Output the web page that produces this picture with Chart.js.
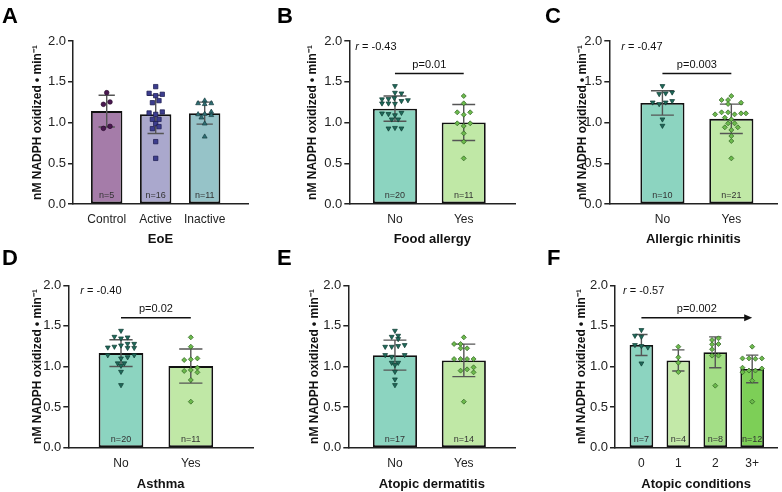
<!DOCTYPE html>
<html><head><meta charset="utf-8">
<script src="https://cdn.jsdelivr.net/npm/chart.js@4.4.1/dist/chart.umd.min.js"></script>
<style>
html,body{margin:0;padding:0;background:#fff;width:782px;height:492px;overflow:hidden;}
canvas{position:absolute;}
</style></head><body>
<canvas id="cA"></canvas><canvas id="cB"></canvas><canvas id="cC"></canvas>
<canvas id="cD"></canvas><canvas id="cE"></canvas><canvas id="cF"></canvas>
<script>
// ---------- DATA ----------
const catsEoE = ['Control', 'Active', 'Inactive'];
const catsYesNo = ['No', 'Yes'];
const catsAtopic = ['0', '1', '2', '3+'];
const yTickValues = [0, 0.5, 1.0, 1.5, 2.0];
const yAxisTitle = 'nM NADPH oxidized • min⁻¹';

// Panel A: EoE
const meanA = [1.14, 1.10, 1.115];
const sdA = [0.195, 0.235, 0.135];
const nA = [5, 16, 11];
const ptsA_control = [1.366, 1.223, 1.252, 0.928, 0.953];
const laneA_control = [0, -1, 1, -1, 1];
const ptsA_active = [1.440, 1.358, 1.329, 1.346, 1.243, 1.268, 1.117, 1.100, 1.129, 1.039, 1.039, 0.986, 0.924, 0.949, 0.765, 0.560];
const laneA_active = [0, -2, 0, 2, -1, 1, -2, 0, 2, -1, 1, 0, -1, 1, 0, 0];
const ptsA_inactive = [1.268, 1.235, 1.225, 1.235, 1.130, 1.100, 1.105, 1.090, 1.060, 0.986, 0.826];
const laneA_inactive = [0, -2, 0, 2, 2, -2, 0, 2, -1, 0, 0];

// Panel B: Food allergy
const meanB = [1.17, 1.00];
const sdB = [0.155, 0.22];
const nB = [20, 11];
const ptsB_no = [1.448, 1.366, 1.358, 1.285, 1.290, 1.265, 1.275, 1.235, 1.235, 1.230, 1.300, 1.112, 1.105, 1.090, 1.120, 1.039, 1.039, 0.928, 0.935, 0.928];
const laneB_no = [0, 0, 2, -4, -2, 2, 4, -4, -2, 0, -0.2, -4, -2, 0, 2, -1, 1, -2, 0, 2];
const ptsB_yes = [1.325, 1.235, 1.125, 1.125, 1.096, 0.990, 0.990, 0.957, 0.867, 0.765, 0.560];
const laneB_yes = [0, 0, -2, 2, 0, -2, 2, 0, 0, 0, 0];

// Panel C: Allergic rhinitis
const meanC = [1.24, 1.045];
const sdC = [0.15, 0.18];
const nC = [10, 21];
const ptsC_no = [1.448, 1.350, 1.358, 1.370, 1.247, 1.227, 1.247, 1.264, 1.039, 0.961];
const laneC_no = [0, -1, 1, 3, -3, -1, 1, 3, 0, 0];
const ptsC_yes = [1.325, 1.276, 1.276, 1.227, 1.243, 1.125, 1.125, 1.112, 1.112, 1.100, 1.100, 1.060, 1.039, 0.990, 0.990, 0.941, 0.941, 0.908, 0.834, 0.773, 0.560];
const laneC_yes = [0, -3, -1, -1, 3, -3, -1, 3, 4.5, -5, 1, -2, 0, -1, 1, -2, 2, 0, 0, 0, 0];

// Panel D: Asthma
const meanD = [1.165, 1.005];
const sdD = [0.165, 0.21];
const nD = [20, 11];
const ptsD_no = [1.441, 1.367, 1.347, 1.359, 1.235, 1.245, 1.260, 1.280, 1.280, 1.230, 1.230, 1.140, 1.100, 1.115, 1.140, 1.040, 1.040, 1.010, 0.936, 0.772];
const laneD_no = [0, -2, 0, 2, -4, -2, 0, 2, 4, 2, 4, -4, 0, 2, 4, -1, 1, 0, 0, 0];
const ptsD_yes = [1.359, 1.244, 1.080, 1.088, 1.100, 0.945, 0.957, 0.986, 0.928, 0.834, 0.567];
const laneD_yes = [0, 0, -2, 0, 2, -2, 0, 2, 2, 0, 0];

// Panel E: Atopic dermatitis
const meanE = [1.14, 1.075];
const sdE = [0.185, 0.20];
const nE = [17, 14];
const ptsE_no = [1.441, 1.367, 1.380, 1.339, 1.244, 1.244, 1.253, 1.265, 1.142, 1.121, 1.142, 1.047, 1.047, 1.019, 0.936, 0.842, 0.772];
const laneE_no = [0, -1, 1, 1, -3, -1, 1, 3, -3, -1, 3, -1, 1, 0, 0, 0, 0];
const ptsE_yes = [1.359, 1.277, 1.277, 1.224, 1.224, 1.092, 1.092, 1.092, 1.092, 0.949, 0.965, 0.990, 0.928, 0.567];
const laneE_yes = [0, -3, -1, -1, 1, -3, -1, 1, 3, -1, 1, 3, 3, 0];

// Panel F: Atopic conditions
const meanF = [1.265, 1.075, 1.175, 0.97];
const sdF = [0.13, 0.13, 0.19, 0.17];
const nF = [7, 4, 8, 12];
const ptsF_0 = [1.450, 1.380, 1.367, 1.265, 1.253, 1.236, 1.039];
const laneF_0 = [0, -2, 0, -2, 0, 2, 0];
const ptsF_1 = [1.244, 1.113, 1.047, 0.932];
const laneF_1 = [0, 0, 0, 0];
const ptsF_2 = [1.326, 1.347, 1.273, 1.277, 1.212, 1.134, 1.134, 0.764];
const laneF_2 = [-1, 1, -1, 1, -1, -1, 1, 0];
const ptsF_3 = [1.244, 1.100, 1.100, 1.095, 1.100, 0.985, 0.930, 0.950, 0.950, 0.975, 0.825, 0.567];
const laneF_3 = [0, -3, -1, 1, 3, -3, -3, -1, 1, 3, 0, 0];

// ---------- STYLES ----------
const FONT = "'Liberation Sans', Arial, Helvetica, sans-serif";
Chart.defaults.font.family = FONT;
Chart.defaults.color = '#222';
const LANE_PX = 3.3;

const STY = {
  control: {style: 'circle', r: 2.3, fill: '#4a1850', stroke: '#2a0a2e', rot: 0},
  active: {style: 'rect', r: 3.1, fill: '#3c3d8e', stroke: '#1a1a4e', rot: 0},
  inactive: {style: 'triangle', r: 2.8, fill: '#2f6f74', stroke: '#173e40', rot: 0},
  no: {style: 'triangle', r: 2.8, fill: '#1f6b5b', stroke: '#0e3a30', rot: 180},
  yes: {style: 'rectRot', r: 2.5, fill: '#6cba4c', stroke: '#2c5e1f', rot: 0}
};
const C_NO = '#8cd4c0', C_YES = '#c0e8a6';

const panels = [
  {id: 'cA', left: 0, top: 0, w: 260, h: 246, yW: 73, xH: 42, padTop: 41, padRight: 12,
   xmin: -0.688, xmax: 2.884, spacing: 49, ytPad: 30.8, xtPad: 0, letter: 'A', lx: 2, ly: 23,
   cats: catsEoE, xtitle: 'EoE', means: meanA, sds: sdA, ns: nA,
   barColors: ['#a57ca9', '#aaa8cd', '#96c3c8'],
   groups: [[ptsA_control, laneA_control, STY.control], [ptsA_active, laneA_active, STY.active], [ptsA_inactive, laneA_inactive, STY.inactive]]},
  {id: 'cB', left: 260, top: 0, w: 260, h: 246, yW: 89.3, xH: 42, padTop: 41, padRight: 1.7,
   xmin: -0.664, xmax: 1.75, spacing: 70, ytPad: 45.8, xtPad: 0, letter: 'B', lx: 17, ly: 23,
   cats: catsYesNo, xtitle: 'Food allergy', means: meanB, sds: sdB, ns: nB,
   barColors: [C_NO, C_YES], r: '-0.43', rdx: 6, p: 'p=0.01', pFrom: 0, pTo: 1,
   groups: [[ptsB_no, laneB_no, STY.no], [ptsB_yes, laneB_yes, STY.yes]]},
  {id: 'cC', left: 520, top: 0, w: 262, h: 246, yW: 89.3, xH: 42, padTop: 41, padRight: 2,
   xmin: -0.771, xmax: 1.667, spacing: 70, ytPad: 55.8, xtPad: 0, letter: 'C', lx: 25, ly: 23,
   cats: catsYesNo, xtitle: 'Allergic rhinitis', means: meanC, sds: sdC, ns: nC,
   barColors: [C_NO, C_YES], r: '-0.47', rdx: 12, p: 'p=0.003', pFrom: 0, pTo: 1,
   groups: [[ptsC_no, laneC_no, STY.no], [ptsC_yes, laneC_yes, STY.yes]]},
  {id: 'cD', left: 0, top: 246, w: 260, h: 246, yW: 68.3, xH: 44.3, padTop: 39.3, padRight: 7,
   xmin: -0.755, xmax: 1.891, spacing: 69.8, ytPad: 30.8, xtPad: 1.5, letter: 'D', lx: 2, ly: 19,
   cats: catsYesNo, xtitle: 'Asthma', means: meanD, sds: sdD, ns: nD,
   barColors: [C_NO, C_YES], r: '-0.40', rdx: 12, p: 'p=0.02', pFrom: 0, pTo: 1,
   groups: [[ptsD_no, laneD_no, STY.no], [ptsD_yes, laneD_yes, STY.yes]]},
  {id: 'cE', left: 260, top: 246, w: 260, h: 246, yW: 88.3, xH: 44.3, padTop: 39.3, padRight: 2,
   xmin: -0.677, xmax: 1.747, spacing: 70, ytPad: 47.8, xtPad: 1.5, letter: 'E', lx: 17, ly: 19,
   cats: catsYesNo, xtitle: 'Atopic dermatitis', means: meanE, sds: sdE, ns: nE,
   barColors: [C_NO, C_YES],
   groups: [[ptsE_no, laneE_no, STY.no], [ptsE_yes, laneE_yes, STY.yes]]},
  {id: 'cF', left: 520, top: 246, w: 262, h: 246, yW: 95, xH: 44.3, padTop: 39.3, padRight: 1,
   xmin: -0.715, xmax: 3.68, spacing: 37.77, ytPad: 54.8, xtPad: 1.5, letter: 'F', lx: 27, ly: 19,
   cats: catsAtopic, xtitle: 'Atopic conditions', means: meanF, sds: sdF, ns: nF,
   barColors: [C_NO, '#c3e9a8', '#a3de86', '#7dcf57'], r: '-0.57', rdx: 8, p: 'p=0.002', pFrom: 0, pTo: 3, arrow: true,
   groups: [[ptsF_0, laneF_0, STY.no], [ptsF_1, laneF_1, STY.yes], [ptsF_2, laneF_2, STY.yes], [ptsF_3, laneF_3, STY.yes]]}
];

function makePlugin(p) {
  return {
    id: 'ann' + p.id,
    afterDatasetDraw(chart, args) {
      if (args.meta.type !== 'bar') return;
      const ctx = chart.ctx, ys = chart.scales.y;
      ctx.save();
      ctx.strokeStyle = '#555';
      ctx.lineWidth = 1.4;
      args.meta.data.forEach((bar, i) => {
        const x = bar.x, hw = bar.width * 0.26;
        const yT = ys.getPixelForValue(p.means[i] + p.sds[i]);
        const yB = ys.getPixelForValue(p.means[i] - p.sds[i]);
        ctx.beginPath();
        ctx.moveTo(x, yT); ctx.lineTo(x, yB);
        ctx.moveTo(x - hw, yT); ctx.lineTo(x + hw, yT);
        ctx.moveTo(x - hw, yB); ctx.lineTo(x + hw, yB);
        ctx.stroke();
      });
      ctx.restore();
    },
    afterDraw(chart) {
      const ctx = chart.ctx, xs = chart.scales.x, ys = chart.scales.y, ca = chart.chartArea;
      ctx.save();
      ctx.fillStyle = '#333';
      ctx.font = '9px ' + FONT;
      ctx.textAlign = 'center';
      ctx.textBaseline = 'middle';
      const y0 = ys.getPixelForValue(0);
      p.ns.forEach((n, i) => ctx.fillText('n=' + n, xs.getPixelForValue(i), y0 - 8.5));
      if (p.r) {
        ctx.textAlign = 'left';
        ctx.fillStyle = '#111';
        const rx = ca.left + p.rdx, ry = ca.top + 5.5;
        ctx.font = 'italic 11px ' + FONT;
        ctx.fillText('r', rx, ry);
        const w = ctx.measureText('r').width;
        ctx.font = '11px ' + FONT;
        ctx.fillText(' = ' + p.r, rx + w, ry);
      }
      if (p.p) {
        const x1 = xs.getPixelForValue(p.pFrom), x2 = xs.getPixelForValue(p.pTo);
        const ly = ys.getPixelForValue(1.6);
        ctx.strokeStyle = '#111';
        ctx.fillStyle = '#111';
        ctx.lineWidth = 1.5;
        ctx.beginPath();
        if (p.arrow) {
          ctx.moveTo(x1, ly); ctx.lineTo(x2 - 6, ly); ctx.stroke();
          ctx.beginPath();
          ctx.moveTo(x2, ly); ctx.lineTo(x2 - 8, ly - 3.5); ctx.lineTo(x2 - 8, ly + 3.5); ctx.closePath(); ctx.fill();
        } else {
          ctx.moveTo(x1, ly); ctx.lineTo(x2, ly); ctx.stroke();
        }
        ctx.font = '11px ' + FONT;
        ctx.textAlign = 'center';
        ctx.textBaseline = 'alphabetic';
        ctx.fillText(p.p, (x1 + x2) / 2, ly - 6);
      }
      ctx.fillStyle = '#000';
      ctx.font = 'bold 22px ' + FONT;
      ctx.textAlign = 'left';
      ctx.textBaseline = 'alphabetic';
      ctx.fillText(p.letter, p.lx, p.ly);
      ctx.restore();
    }
  };
}

function makePanel(p) {
  const cv = document.getElementById(p.id);
  cv.style.left = p.left + 'px';
  cv.style.top = p.top + 'px';
  cv.width = p.w; cv.height = p.h;
  cv.style.width = p.w + 'px'; cv.style.height = p.h + 'px';
  const datasets = [{
    type: 'bar',
    data: p.means.map((m, i) => ({x: i, y: m})),
    backgroundColor: p.barColors,
    borderColor: '#111',
    borderWidth: 1.8,
    borderSkipped: false,
    barPercentage: 0.64,
    categoryPercentage: 1,
    order: 2
  }];
  p.groups.forEach(([vals, lanes, s], gi) => {
    datasets.push({
      type: 'scatter',
      data: vals.map((v, j) => ({x: gi + lanes[j] * LANE_PX / p.spacing, y: v})),
      pointStyle: s.style,
      pointRadius: s.r,
      pointRotation: s.rot,
      pointBackgroundColor: s.fill,
      pointBorderColor: s.stroke,
      pointBorderWidth: 0.7,
      order: 1
    });
  });
  new Chart(cv, {
    type: 'bar',
    data: {datasets},
    options: {
      responsive: false,
      animation: false,
      devicePixelRatio: 1,
      events: [],
      layout: {padding: {top: p.padTop, right: p.padRight, left: 0, bottom: 0}},
      plugins: {legend: {display: false}, tooltip: {enabled: false}},
      scales: {
        x: {
          type: 'linear', min: p.xmin, max: p.xmax, offset: false,
          afterBuildTicks: s => { s.ticks = p.cats.map((c, i) => ({value: i})); },
          ticks: {callback: v => p.cats[v], font: {size: 12}, color: '#222', padding: 8.5, maxRotation: 0, autoSkip: false},
          grid: {display: false, drawTicks: false},
          border: {display: true, color: '#222', width: 1.5},
          title: {display: true, text: p.xtitle, color: '#111', font: {size: 13, weight: 'bold', lineHeight: 1}, padding: {top: 0, bottom: p.xtPad}},
          afterFit: s => { s.height = p.xH; }
        },
        y: {
          type: 'linear', min: 0, max: 2,
          afterBuildTicks: s => { s.ticks = yTickValues.map(v => ({value: v})); },
          ticks: {callback: v => v.toFixed(1), font: {size: 13}, color: '#222', padding: 2},
          grid: {display: true, drawOnChartArea: false, drawTicks: true, tickLength: 5, color: '#222', lineWidth: 1.5},
          border: {display: true, color: '#222', width: 1.5},
          title: {display: true, text: yAxisTitle, color: '#111', font: {size: 12, weight: 'bold'}, padding: {top: p.ytPad, bottom: 0}},
          afterFit: s => { s.width = p.yW; }
        }
      }
    },
    plugins: [makePlugin(p)]
  });
}
panels.forEach(makePanel);
</script>
</body></html>
